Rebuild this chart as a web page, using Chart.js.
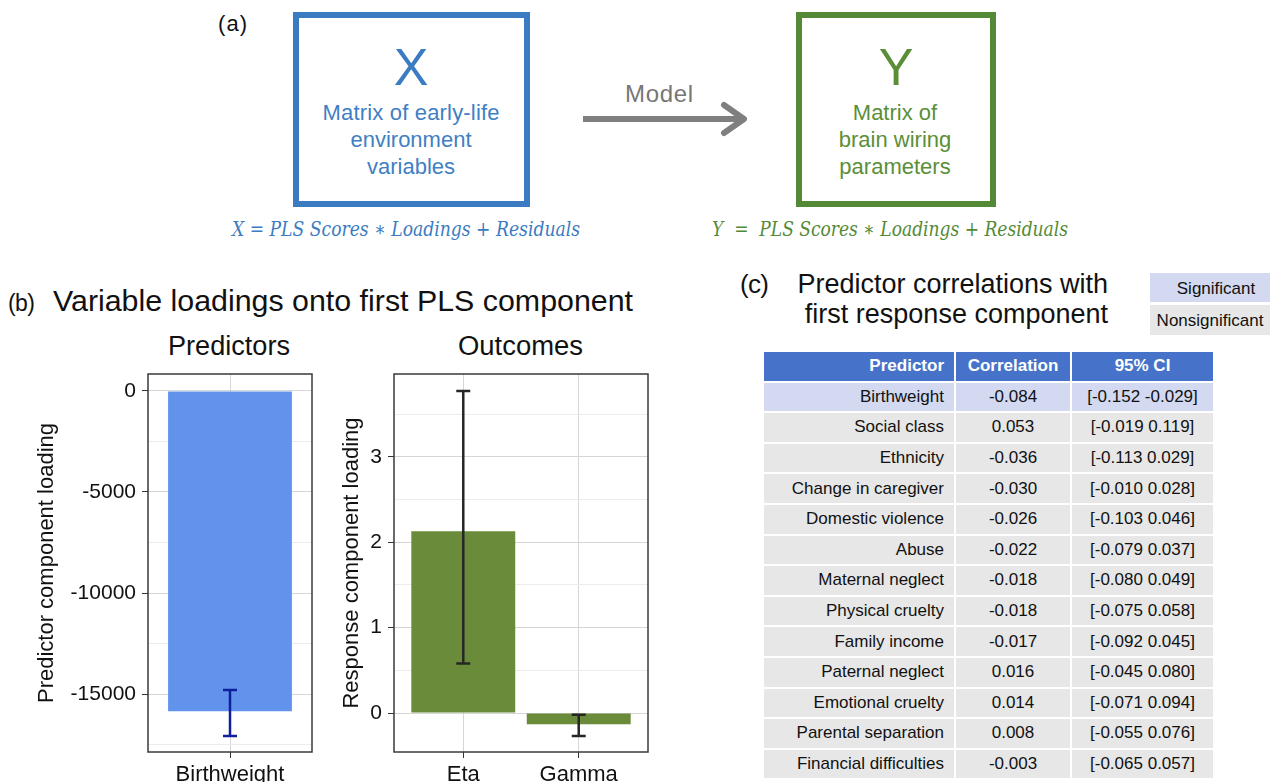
<!DOCTYPE html>
<html>
<head>
<meta charset="utf-8">
<script src="https://cdn.jsdelivr.net/npm/chart.js@4.4.1/dist/chart.umd.min.js"></script>
<style>
  body { margin: 0; width: 1270px; height: 782px; overflow: hidden; background: #fff; position: relative; font-family: "Liberation Sans", Arial, sans-serif; }
  svg#labels { position: absolute; left: 0; top: 0; }
  #predCanvas { position: absolute; left: 20px; top: 370px; }
  #outCanvas { position: absolute; left: 320px; top: 370px; }
  #corr { position: absolute; left: 762px; top: 350px; border-collapse: separate; border-spacing: 2px; font-size: 17px; color: #111; }
  #corr th, #corr td { padding: 0; height: 28.6px; }
  #corr th { background: #4673c9; color: #fff; font-weight: bold; text-align: center; }
  #corr th:first-child, #corr td:first-child { text-align: right; padding-right: 10px; width: 180px; }
  #corr th:nth-child(2), #corr td:nth-child(2) { width: 114px; text-align: center; }
  #corr th:nth-child(3), #corr td:nth-child(3) { width: 141px; text-align: center; }
  #corr tr.sig td { background: #d2d9f0; }
  #corr tr.ns td { background: #e7e7e7; }
</style>
</head>
<body>
<svg id="labels" width="1270" height="782" font-family="Liberation Sans, Arial, sans-serif">
  <!-- (a) model diagram -->
  <text x="218" y="31" font-size="22" fill="#111" textLength="29">(a)</text>
  <rect x="296" y="15" width="231" height="189" fill="none" stroke="#3b7bc1" stroke-width="6"/>
  <text x="411" y="85" font-size="52" fill="#3b7bc1" text-anchor="middle">X</text>
  <g font-size="22" fill="#3f7fc4" text-anchor="middle">
    <text x="411" y="120" textLength="177">Matrix of early-life</text>
    <text x="411" y="147">environment</text>
    <text x="411" y="174">variables</text>
  </g>
  <text x="232" y="236" font-family="DejaVu Serif, serif" font-style="italic" font-size="20" fill="#3b7bc1" textLength="348" lengthAdjust="spacingAndGlyphs">X = PLS Scores ∗ Loadings + Residuals</text>

  <text x="625" y="102" font-size="24" fill="#777" textLength="68">Model</text>
  <path d="M583,119 H742" stroke="#7f7f7f" stroke-width="6"/>
  <polyline points="724,105 744,119 724,133" fill="none" stroke="#7f7f7f" stroke-width="6" stroke-linecap="round" stroke-linejoin="round"/>

  <rect x="799" y="15" width="194" height="189" fill="none" stroke="#548a35" stroke-width="6"/>
  <text x="896" y="85" font-size="52" fill="#5a8f37" text-anchor="middle">Y</text>
  <g font-size="22" fill="#5a8f37" text-anchor="middle">
    <text x="895" y="120">Matrix of</text>
    <text x="895" y="147">brain wiring</text>
    <text x="895" y="174">parameters</text>
  </g>
  <text x="712" y="236" font-family="DejaVu Serif, serif" font-style="italic" font-size="20" fill="#548a35" textLength="356" lengthAdjust="spacingAndGlyphs" xml:space="preserve">Y  =  PLS Scores ∗ Loadings + Residuals</text>

  <!-- (b) titles -->
  <text x="8" y="311" font-size="23" fill="#111" textLength="27">(b)</text>
  <text x="53" y="311" font-size="29" fill="#111" textLength="580" lengthAdjust="spacingAndGlyphs">Variable loadings onto first PLS component</text>
  <text x="168" y="355" font-size="27" fill="#111" textLength="122" lengthAdjust="spacingAndGlyphs">Predictors</text>
  <text x="458" y="355" font-size="27" fill="#111" textLength="125" lengthAdjust="spacingAndGlyphs">Outcomes</text>

  <!-- (c) titles and legend -->
  <text x="740" y="293" font-size="26" fill="#111" textLength="29">(c)</text>
  <text x="1108" y="293" font-size="27" fill="#111" text-anchor="end">Predictor correlations with</text>
  <text x="1108" y="323" font-size="27" fill="#111" text-anchor="end">first response component</text>
  <rect x="1150" y="273" width="120" height="29" fill="#d2d9f0"/>
  <rect x="1150" y="305" width="120" height="30" fill="#e7e7e7"/>
  <text x="1216" y="294" font-size="17" fill="#111" text-anchor="middle">Significant</text>
  <text x="1210" y="326" font-size="17" fill="#111" text-anchor="middle">Nonsignificant</text>
</svg>

<canvas id="predCanvas" width="300" height="412"></canvas>
<canvas id="outCanvas" width="340" height="412"></canvas>

<table id="corr">
  <thead><tr><th>Predictor</th><th>Correlation</th><th>95% CI</th></tr></thead>
  <tbody></tbody>
</table>

<script>
// loadings onto the first PLS component
const predictorLabels = ['Birthweight'];
const predictorLoading = [-15850];
const predictorLow = [-17080];
const predictorHigh = [-14800];
const predictorTicks = [-17500, -15000, -12500, -10000, -7500, -5000, -2500, 0];

const outcomeLabels = ['Eta', 'Gamma'];
const outcomeLoading = [2.13, -0.13];
const outcomeLow = [0.58, -0.27];
const outcomeHigh = [3.77, -0.02];
const outcomeTicks = [0, 0.5, 1, 1.5, 2, 2.5, 3, 3.5];

// correlations with the first response component
const tableVars = ['Birthweight', 'Social class', 'Ethnicity', 'Change in caregiver', 'Domestic violence', 'Abuse',
  'Maternal neglect', 'Physical cruelty', 'Family income', 'Paternal neglect', 'Emotional cruelty',
  'Parental separation', 'Financial difficulties'];
const tableCorr = ['-0.084', '0.053', '-0.036', '-0.030', '-0.026', '-0.022', '-0.018', '-0.018', '-0.017', '0.016', '0.014', '0.008', '-0.003'];
const tableLow = ['-0.152', '-0.019', '-0.113', '-0.010', '-0.103', '-0.079', '-0.080', '-0.075', '-0.092', '-0.045', '-0.071', '-0.055', '-0.065'];
const tableHigh = ['-0.029', '0.119', '0.029', '0.028', '0.046', '0.037', '0.049', '0.058', '0.045', '0.080', '0.094', '0.076', '0.057'];
const tableSig = [true, false, false, false, false, false, false, false, false, false, false, false, false];

const tbody = document.querySelector('#corr tbody');
tableVars.forEach((name, i) => {
  const tr = document.createElement('tr');
  tr.className = tableSig[i] ? 'sig' : 'ns';
  [name, tableCorr[i], '[' + tableLow[i] + ' ' + tableHigh[i] + ']'].forEach(t => {
    const td = document.createElement('td');
    td.textContent = t;
    tr.appendChild(td);
  });
  tbody.appendChild(tr);
});

Chart.defaults.font.family = '"Liberation Sans", Arial, sans-serif';
Chart.defaults.color = '#111';

const errorBars = {
  id: 'errorBars',
  afterDatasetsDraw(chart, args, opts) {
    const ctx = chart.ctx;
    const y = chart.scales.y;
    const meta = chart.getDatasetMeta(0);
    ctx.save();
    ctx.strokeStyle = opts.color;
    ctx.lineWidth = 2.5;
    meta.data.forEach((bar, i) => {
      const top = y.getPixelForValue(opts.high[i]);
      const bot = y.getPixelForValue(opts.low[i]);
      ctx.beginPath();
      ctx.moveTo(bar.x, top); ctx.lineTo(bar.x, bot);
      ctx.moveTo(bar.x - 7, top); ctx.lineTo(bar.x + 7, top);
      ctx.moveTo(bar.x - 7, bot); ctx.lineTo(bar.x + 7, bot);
      ctx.stroke();
    });
    ctx.restore();
  }
};

// box around the plot area
const frame = {
  id: 'frame',
  afterDraw(chart) {
    const {ctx, chartArea: a} = chart;
    ctx.save();
    ctx.strokeStyle = '#3a3a3a';
    ctx.lineWidth = 1.5;
    ctx.strokeRect(a.left, a.top, a.right - a.left, a.bottom - a.top);
    ctx.restore();
  }
};

function yAxis(title, min, max, ticks, major, width) {
  return {
    min: min, max: max,
    afterBuildTicks: s => { s.ticks = ticks.map(v => ({value: v})); },
    // fixed width, and no extra room reserved for the end labels
    afterFit: s => { s.width = width; s.paddingTop = 0; s.paddingBottom = 0; },
    border: {display: false},
    grid: {
      color: c => (c.tick && c.tick.value % major === 0) ? '#d6d6d6' : '#ececec',
      tickColor: c => (c.tick && c.tick.value % major === 0) ? '#333' : 'rgba(0,0,0,0)',
      tickLength: 6
    },
    ticks: {
      autoSkip: false, padding: 6, font: {size: 21},
      callback: v => v % major === 0 ? String(v) : ''
    },
    title: {display: true, text: title, font: {size: 22}, padding: 0}
  };
}

function xFit(s) {
  s.height = 30;
  s.paddingLeft = 0;
  s.paddingRight = 0;
}

new Chart(document.getElementById('predCanvas'), {
  type: 'bar',
  data: {
    labels: predictorLabels,
    datasets: [{
      data: predictorLoading,
      backgroundColor: '#6193ed',
      borderWidth: 0,
      categoryPercentage: 1,
      barPercentage: 0.755
    }]
  },
  options: {
    responsive: false,
    animation: false,
    layout: {padding: {left: 14, top: 4, right: 8, bottom: 0}},
    plugins: {
      legend: {display: false},
      tooltip: {enabled: false},
      errorBars: {low: predictorLow, high: predictorHigh, color: '#10209a'}
    },
    scales: {
      x: {
        afterFit: xFit,
        border: {display: false},
        grid: {offset: false, color: '#d6d6d6', tickColor: '#333', tickLength: 6},
        ticks: {font: {size: 22}, padding: 4}
      },
      y: yAxis('Predictor component loading', -17870, 840, predictorTicks, 5000, 114)
    }
  },
  plugins: [errorBars, frame]
});

new Chart(document.getElementById('outCanvas'), {
  type: 'bar',
  data: {
    datasets: [{
      data: outcomeLoading.map((v, i) => ({x: i, y: v})),
      backgroundColor: '#6a8b39',
      borderWidth: 0,
      categoryPercentage: 1,
      barPercentage: 0.9
    }]
  },
  options: {
    responsive: false,
    animation: false,
    layout: {padding: {left: 19, top: 4, right: 12, bottom: 0}},
    plugins: {
      legend: {display: false},
      tooltip: {enabled: false},
      errorBars: {low: outcomeLow, high: outcomeHigh, color: '#262626'}
    },
    scales: {
      x: {
        type: 'linear',
        min: -0.6, max: 1.6,
        offset: false,
        afterBuildTicks: s => { s.ticks = outcomeLabels.map((l, i) => ({value: i})); },
        afterFit: xFit,
        border: {display: false},
        grid: {offset: false, color: '#d6d6d6', tickColor: '#333', tickLength: 6},
        ticks: {font: {size: 22}, padding: 4, autoSkip: false, callback: v => outcomeLabels[v]}
      },
      y: yAxis('Response component loading', -0.456, 3.97, outcomeTicks, 1, 55)
    }
  },
  plugins: [errorBars, frame]
});
</script>
</body>
</html>
